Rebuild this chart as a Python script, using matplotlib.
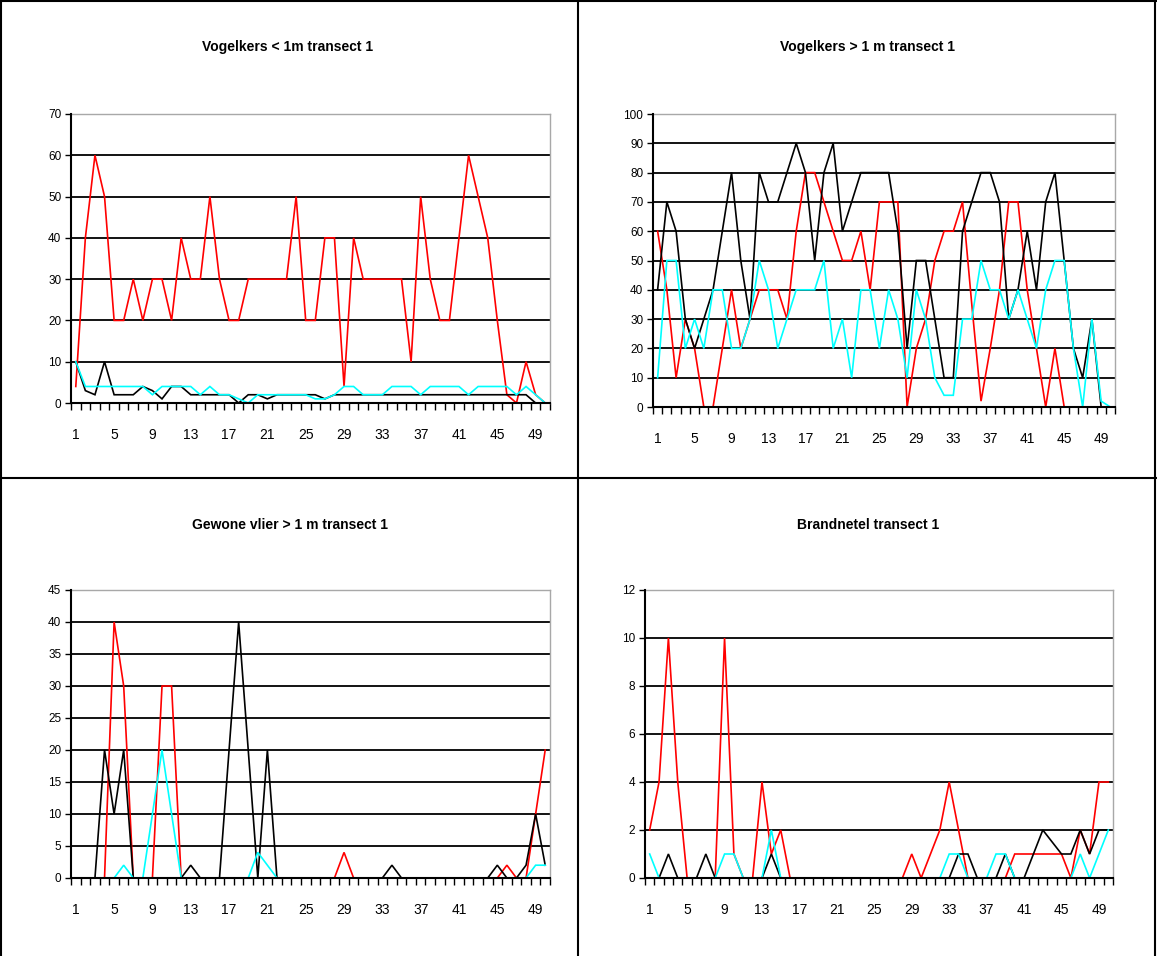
import numpy as np
import matplotlib
matplotlib.use("Agg")
import matplotlib.pyplot as plt
from matplotlib.lines import Line2D

W, H = 1157, 956

# Sampling points along the transect
points = list(range(1, 51))
tick_points = list(range(1, 51, 4))

# Vogelkers < 1m
vk_small_red = [4, 40, 60, 50, 20, 20, 30, 20, 30, 30,
                20, 40, 30, 30, 50, 30, 20, 20, 30, 30,
                30, 30, 30, 50, 20, 20, 40, 40, 4, 40,
                30, 30, 30, 30, 30, 10, 50, 30, 20, 20,
                40, 60, 50, 40, 20, 2, 0, 10, 2, 0]
vk_small_black = [10, 3, 2, 10, 2, 2, 2, 4, 3, 1,
                  4, 4, 2, 2, 2, 2, 2, 0, 2, 2,
                  1, 2, 2, 2, 2, 2, 1, 2, 2, 2,
                  2, 2, 2, 2, 2, 2, 2, 2, 2, 2,
                  2, 2, 2, 2, 2, 2, 2, 2, 0, 0]
vk_small_cyan = [10, 4, 4, 4, 4, 4, 4, 4, 2, 4,
                 4, 4, 4, 2, 4, 2, 2, 1, 0, 2,
                 2, 2, 2, 2, 2, 1, 1, 2, 4, 4,
                 2, 2, 2, 4, 4, 4, 2, 4, 4, 4,
                 4, 2, 4, 4, 4, 4, 2, 4, 2, 0]

# Vogelkers > 1 m
vk_large_red = [60, 40, 10, 30, 20, 0, 0, 20, 40, 20,
                30, 40, 40, 40, 30, 60, 80, 80, 70, 60,
                50, 50, 60, 40, 70, 70, 70, 0, 20, 30,
                50, 60, 60, 70, 35, 2, 20, 40, 70, 70,
                40, 20, 0, 20, 0, 0, 0, 0, 0, 0]
vk_large_black = [40, 70, 60, 30, 20, 30, 40, 60, 80, 50,
                  30, 80, 70, 70, 80, 90, 80, 50, 80, 90,
                  60, 70, 80, 80, 80, 80, 60, 20, 50, 50,
                  30, 10, 10, 60, 70, 80, 80, 70, 30, 40,
                  60, 40, 70, 80, 50, 20, 10, 30, 0, 0]
vk_large_cyan = [10, 50, 50, 20, 30, 20, 40, 40, 20, 20,
                 30, 50, 40, 20, 30, 40, 40, 40, 50, 20,
                 30, 10, 40, 40, 20, 40, 30, 10, 40, 30,
                 10, 4, 4, 30, 30, 50, 40, 40, 30, 40,
                 30, 20, 40, 50, 50, 20, 0, 30, 2, 0]

# Gewone vlier > 1 m
vlier_red = [0, 0, 0, 0, 40, 30, 0, 0, 0, 30,
             30, 0, 0, 0, 0, 0, 0, 0, 0, 0,
             0, 0, 0, 0, 0, 0, 0, 0, 4, 0,
             0, 0, 0, 0, 0, 0, 0, 0, 0, 0,
             0, 0, 0, 0, 0, 2, 0, 0, 10, 20]
vlier_black = [0, 0, 0, 20, 10, 20, 0, 0, 0, 0,
               0, 0, 2, 0, 0, 0, 20, 40, 20, 0,
               20, 0, 0, 0, 0, 0, 0, 0, 0, 0,
               0, 0, 0, 2, 0, 0, 0, 0, 0, 0,
               0, 0, 0, 0, 2, 0, 0, 2, 10, 2]
vlier_cyan = [0, 0, 0, 0, 0, 2, 0, 0, 10, 20,
              10, 0, 0, 0, 0, 0, 0, 0, 0, 4,
              2, 0, 0, 0, 0, 0, 0, 0, 0, 0,
              0, 0, 0, 0, 0, 0, 0, 0, 0, 0,
              0, 0, 0, 0, 0, 0, 0, 0, 2, 2]

# Brandnetel
netel_red = [2, 4, 10, 4, 0, 0, 0, 0, 10, 1,
             0, 0, 4, 1, 2, 0, 0, 0, 0, 0,
             0, 0, 0, 0, 0, 0, 0, 0, 1, 0,
             1, 2, 4, 2, 0, 0, 0, 0, 0, 1,
             1, 1, 1, 1, 1, 0, 2, 1, 4, 4]
netel_black = [0, 0, 1, 0, 0, 0, 1, 0, 0, 0,
               0, 0, 0, 1, 0, 0, 0, 0, 0, 0,
               0, 0, 0, 0, 0, 0, 0, 0, 0, 0,
               0, 0, 0, 1, 1, 0, 0, 0, 1, 0,
               0, 1, 2, 1.5, 1, 1, 2, 1, 2, 2]
netel_cyan = [1, 0, 0, 0, 0, 0, 0, 0, 1, 1,
              0, 0, 0, 2, 0, 0, 0, 0, 0, 0,
              0, 0, 0, 0, 0, 0, 0, 0, 0, 0,
              0, 0, 1, 1, 0, 0, 0, 1, 1, 0,
              0, 0, 0, 0, 0, 0, 1, 0, 1, 2]

titles = ["Vogelkers < 1m transect 1", "Vogelkers > 1 m transect 1",
          "Gewone vlier > 1 m transect 1", "Brandnetel transect 1"]

panels = [
    # title, series, ymax, ystep, plot box (left, top, right, bottom) px, title centre px
    (titles[0], (vk_small_red, vk_small_black, vk_small_cyan), 70, 10,
     (71, 114, 550, 403), (288, 47)),
    (titles[1], (vk_large_red, vk_large_black, vk_large_cyan), 100, 10,
     (653, 114, 1115, 407), (868, 47)),
    (titles[2], (vlier_red, vlier_black, vlier_cyan), 45, 5,
     (71, 590, 550, 878), (290, 525)),
    (titles[3], (netel_red, netel_black, netel_cyan), 12, 2,
     (645, 590, 1113, 878), (868, 525)),
]

colors = ["#ff0000", "#000000", "#00ffff"]
font = "Liberation Sans"

fig = plt.figure(figsize=(W / 100, H / 100), dpi=100)
fig.patch.set_facecolor("white")

for title, series, ymax, ystep, (l, t, r, b), (tx, ty) in panels:
    ax = fig.add_axes([l / W, 1 - b / H, (r - l) / W, (b - t) / H])
    ax.set_xlim(0.5, 50.5)
    ax.set_ylim(0, ymax)

    yt = np.arange(0, ymax + ystep / 2, ystep)
    for v in yt[1:-1]:
        ax.axhline(v, color="black", lw=1.3, zorder=1)

    for vals, c in zip(series, colors):
        ax.plot(points, vals, color=c, lw=1.2, zorder=2,
                solid_joinstyle="miter")

    ax.set_yticks(yt)
    ax.set_yticklabels([f"{int(v)}" for v in yt], fontsize=8.5, family=font)
    ax.tick_params(axis="y", direction="out", length=4, width=1, pad=3)

    ax.set_xticks(tick_points)
    ax.set_xticklabels([str(p) for p in tick_points], fontsize=10, family=font)
    ax.set_xticks(np.arange(0.5, 51, 1), minor=True)
    ax.tick_params(axis="x", which="major", length=0, pad=18)
    ax.tick_params(axis="x", which="minor", direction="out", length=5, width=1)

    for side in ("left", "bottom"):
        ax.spines[side].set_color("black")
        ax.spines[side].set_linewidth(1.5)
        ax.spines[side].set_zorder(3)
    for side in ("top", "right"):
        ax.spines[side].set_color("#a8a8a8")
        ax.spines[side].set_linewidth(1.0)

    fig.text(tx / W, 1 - ty / H, title, ha="center", va="center",
             fontsize=10, fontweight="bold", family=font)

# Frame and panel dividers
def hline(y, x0=0, x1=W, lw=1.5):
    fig.add_artist(Line2D([x0 / W, x1 / W], [1 - y / H, 1 - y / H],
                          transform=fig.transFigure, color="black", lw=lw))

def vline(x, y0=0, y1=H, lw=1.5):
    fig.add_artist(Line2D([x / W, x / W], [1 - y0 / H, 1 - y1 / H],
                          transform=fig.transFigure, color="black", lw=lw))

hline(1)
hline(478)
vline(1)
vline(578)
vline(1155)

fig.savefig("out.png", dpi=100, facecolor="white")
